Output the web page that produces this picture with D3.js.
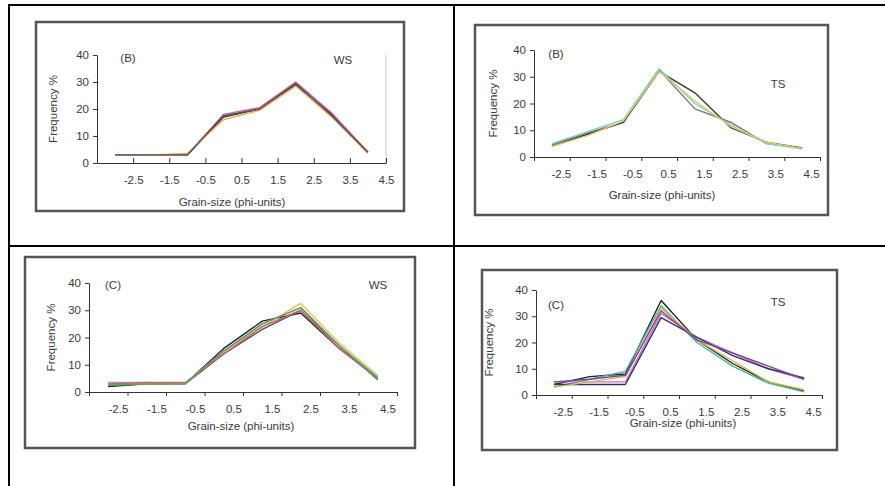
<!DOCTYPE html>
<html>
<head>
<meta charset="utf-8">
<script src="https://cdn.jsdelivr.net/npm/d3@7/dist/d3.min.js"></script>
<style>
body { margin: 0; background: #fff; }
svg { display: block; }
text { font-family: "Liberation Sans", Arial, sans-serif; fill: #3a3a3a; }
</style>
</head>
<body>
<svg width="885" height="486"></svg>
<script>
"use strict";

// grain-size classes (phi) and frequency ticks
var phiLabels = ["-2.5", "-1.5", "-0.5", "0.5", "1.5", "2.5", "3.5", "4.5"];
var freqTicks = [0, 10, 20, 30, 40];

// frequency % per sample, one row per sample line
var wsB = [
	[3, 3, 3, 17, 20, 29, 18, 4],
	[3, 3, 3, 18, 20.5, 30, 18.5, 4],
	[3, 3, 3.5, 16, 19.5, 28.5, 17, 3.5],
	[3, 3, 3, 17.5, 20, 29.5, 17.5, 4]
];
var tsB = [
	[4.5, 9, 13, 32.5, 18, 13, 5, 3.4],
	[4, 8.5, 13, 32, 24, 11, 5.5, 3.4],
	[5, 9.5, 14, 33, 20, 12, 5, 3],
	[4, 8, 13.5, 32, 21, 11.5, 5.5, 3.2]
];
var wsC = [
	[2, 3, 3, 16, 26, 29, 16, 5],
	[2.5, 3, 3, 14, 23, 30, 17, 4.5],
	[3, 3, 3, 15, 24, 32.5, 18, 6],
	[3.5, 3.5, 3, 15, 25, 31, 17, 5.5],
	[3, 3.5, 3.5, 14, 24, 30, 16, 5],
	[2.5, 3, 3, 15, 25, 31, 17, 5]
];
var tsC = [
	[4, 7, 8, 36, 21, 12, 5, 1.5],
	[3, 6, 9, 34, 20, 11, 4.5, 1.2],
	[5, 5, 5, 31, 22, 16, 10, 6],
	[4, 4, 4, 29.5, 22, 15, 10, 6.5],
	[3, 5, 7, 33, 21, 13, 5, 2],
	[5, 6, 7.5, 32, 21, 16, 11, 6]
];

var wsBColors = ["#2a2a2a", "#d060a8", "#e8b060", "#555555"];
var tsBColors = ["#7a7a7a", "#3a3a3a", "#80cccc", "#d8cf70"];
var wsCColors = ["#222222", "#555555", "#e0c850", "#70b0d0", "#d06070", "#60a060"];
var tsCColors = ["#222222", "#50b0a0", "#d070c0", "#303070", "#c8c050", "#7a4a90"];

var panels = [
	{data: wsB, colors: wsBColors, tag: "(B)", site: "WS", frame: [36, 22, 404, 211], xr: [97, 386], yr: [163, 55],
		labelShift: 1, tickIn: true, rightEdge: true, tagPos: [128, 62], sitePos: [343, 64],
		yTitleX: 57, xTitlePos: [232, 206]},
	{data: tsB, colors: tsBColors, tag: "(B)", site: "TS", frame: [475, 25, 828, 215], xr: [534, 820], yr: [157, 50],
		labelShift: 0.75, tickIn: false, rightEdge: false, tagPos: [556, 58], sitePos: [778, 88],
		yTitleX: 497, xTitlePos: [662, 199]},
	{data: wsC, colors: wsCColors, tag: "(C)", site: "WS", frame: [25, 257, 415, 448], xr: [89, 397], yr: [392, 283],
		labelShift: 0.75, tickIn: false, rightEdge: false, tagPos: [113, 289], sitePos: [378, 289],
		yTitleX: 55, xTitlePos: [241, 430]},
	{data: tsC, colors: tsCColors, tag: "(C)", site: "TS", frame: [482, 270, 837, 450], xr: [536, 822], yr: [395, 290],
		labelShift: 0.75, tickIn: false, rightEdge: false, tagPos: [556, 309], sitePos: [778, 306],
		yTitleX: 493, xTitlePos: [683, 427]}
];

var svg = d3.select("svg");

function drawTable() {
	var g = svg.append("g").attr("stroke", "#000").attr("stroke-width", 2);
	g.append("line").attr("x1", 9).attr("x2", 885).attr("y1", 5).attr("y2", 5);
	g.append("line").attr("x1", 9).attr("x2", 885).attr("y1", 246).attr("y2", 246);
	g.append("line").attr("x1", 9).attr("x2", 9).attr("y1", 4).attr("y2", 486);
	g.append("line").attr("x1", 454).attr("x2", 454).attr("y1", 4).attr("y2", 486);
}

function drawPanel(p) {
	var g = svg.append("g");
	var f = p.frame;

	g.append("rect")
		.attr("x", f[0]).attr("y", f[1])
		.attr("width", f[2] - f[0]).attr("height", f[3] - f[1])
		.attr("fill", "#fff").attr("stroke", "#555").attr("stroke-width", 2.5);

	var x = d3.scaleLinear().domain([0, phiLabels.length]).range(p.xr);
	var y = d3.scaleLinear().domain([0, 40]).range(p.yr);

	if (p.rightEdge) {
		g.append("line")
			.attr("x1", p.xr[1]).attr("x2", p.xr[1])
			.attr("y1", y(40)).attr("y2", y(0))
			.attr("stroke", "#c8c8c8");
	}

	// y axis
	var ya = g.append("g")
		.attr("transform", "translate(" + p.xr[0] + ",0)")
		.call(d3.axisLeft(y).tickValues(freqTicks).tickSize(4).tickSizeOuter(0).tickPadding(4));
	ya.selectAll("text").attr("font-size", 11.5).attr("font-family", "Liberation Sans, Arial, sans-serif");

	// x axis tick marks between classes
	g.append("g")
		.attr("transform", "translate(0," + p.yr[0] + ")")
		.call(d3.axisBottom(x).tickValues(d3.range(phiLabels.length + 1))
			.tickFormat("").tickSize(p.tickIn ? -5 : 4).tickSizeOuter(0));

	// x axis labels
	var xl = g.append("g")
		.attr("transform", "translate(0," + p.yr[0] + ")")
		.call(d3.axisBottom(x)
			.tickValues(d3.range(phiLabels.length).map(function(i) {return i + p.labelShift;}))
			.tickFormat(function(d, i) {return phiLabels[i];})
			.tickSize(0).tickPadding(13));
	xl.select(".domain").remove();
	xl.selectAll("text").attr("font-size", 11.5).attr("font-family", "Liberation Sans, Arial, sans-serif");

	g.selectAll(".domain, .tick line").attr("stroke", "#333");

	// sample lines
	var line = d3.line()
		.x(function(d, i) {return x(i + 0.5);})
		.y(function(d) {return y(d);});

	g.selectAll("path.sample").data(p.data).enter().append("path")
		.attr("class", "sample")
		.attr("fill", "none")
		.attr("stroke", function(d, i) {return p.colors[i % p.colors.length];})
		.attr("stroke-width", 1.4)
		.attr("stroke-linejoin", "round")
		.attr("d", line);

	g.append("text")
		.attr("x", p.tagPos[0]).attr("y", p.tagPos[1])
		.attr("text-anchor", "middle").attr("font-size", 11.5)
		.text(p.tag);
	g.append("text")
		.attr("x", p.sitePos[0]).attr("y", p.sitePos[1])
		.attr("text-anchor", "middle").attr("font-size", 11.5)
		.text(p.site);

	g.append("text")
		.attr("transform", "translate(" + p.yTitleX + "," + ((y(0) + y(40)) / 2) + ") rotate(-90)")
		.attr("text-anchor", "middle").attr("font-size", 11.5)
		.text("Frequency %");

	g.append("text")
		.attr("x", p.xTitlePos[0]).attr("y", p.xTitlePos[1])
		.attr("text-anchor", "middle").attr("font-size", 11.5)
		.text("Grain-size (phi-units)");
}

drawTable();
panels.forEach(drawPanel);
</script>
</body>
</html>
